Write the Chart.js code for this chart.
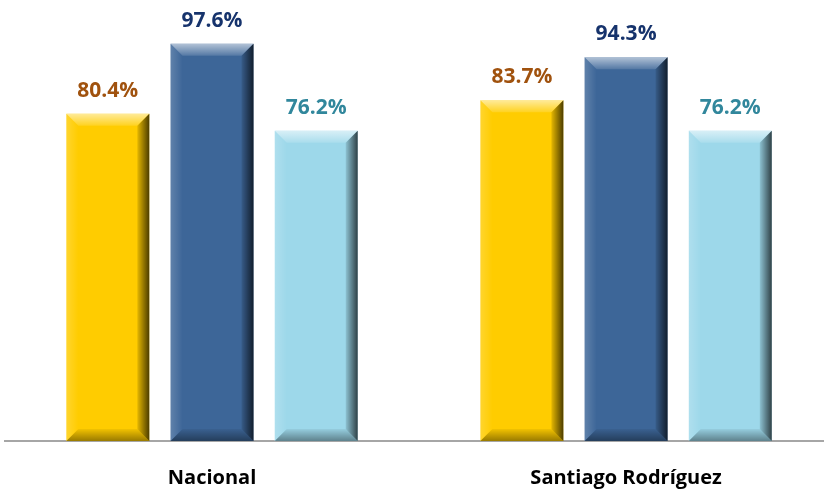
<!DOCTYPE html>
<html>
<head>
<meta charset="utf-8">
<script src="https://cdn.jsdelivr.net/npm/chart.js@4.4.0/dist/chart.umd.min.js"></script>
<style>
  html, body { margin: 0; padding: 0; background: #ffffff; }
  #wrap { width: 824px; height: 497px; position: relative; }
</style>
</head>
<body>
<div id="wrap"><canvas id="c" width="824" height="497"></canvas></div>
<script>
const categories = ['Nacional', 'Santiago Rodríguez'];
const seriesA = [80.4, 83.7];
const seriesB = [97.6, 94.3];
const seriesC = [76.2, 76.2];

const fillColors = ['#FFCC00', '#3D6698', '#9DD8EA'];
const labelColors = ['#A0520E', '#16336C', '#31879C'];
const FONT = '"Open Sans", Lato, "DejaVu Sans", sans-serif';

const toPoints = arr => arr.map((v, i) => ({ x: i, y: v }));

const bevelPlugin = {
  id: 'bevel',
  afterDatasetsDraw(chart) {
    const ctx = chart.ctx;
    chart.data.datasets.forEach((ds, di) => {
      const meta = chart.getDatasetMeta(di);
      meta.data.forEach((bar, i) => {
        const p = bar.getProps(['x', 'y', 'base', 'width'], true);
        const l = p.x - p.width / 2, r = p.x + p.width / 2;
        const t = p.y, b = p.base;
        const s = 12;
        ctx.save();
        let g = ctx.createLinearGradient(0, t, 0, t + s);
        g.addColorStop(0, 'rgba(255,255,255,0.6)');
        g.addColorStop(1, 'rgba(255,255,255,0.12)');
        ctx.fillStyle = g;
        ctx.beginPath();
        ctx.moveTo(l, t); ctx.lineTo(r, t); ctx.lineTo(r - s, t + s); ctx.lineTo(l + s, t + s); ctx.closePath();
        ctx.fill();
        g = ctx.createLinearGradient(l, 0, l + s, 0);
        g.addColorStop(0, 'rgba(255,255,255,0.18)');
        g.addColorStop(1, 'rgba(255,255,255,0.0)');
        ctx.fillStyle = g;
        ctx.beginPath();
        ctx.moveTo(l, t); ctx.lineTo(l + s, t + s); ctx.lineTo(l + s, b - s); ctx.lineTo(l, b); ctx.closePath();
        ctx.fill();
        g = ctx.createLinearGradient(r - s, 0, r, 0);
        g.addColorStop(0, 'rgba(0,0,0,0.10)');
        g.addColorStop(1, 'rgba(0,0,0,0.7)');
        ctx.fillStyle = g;
        ctx.beginPath();
        ctx.moveTo(r, t); ctx.lineTo(r, b); ctx.lineTo(r - s, b - s); ctx.lineTo(r - s, t + s); ctx.closePath();
        ctx.fill();
        g = ctx.createLinearGradient(0, b - s, 0, b);
        g.addColorStop(0, 'rgba(0,0,0,0.05)');
        g.addColorStop(1, 'rgba(0,0,0,0.4)');
        ctx.fillStyle = g;
        ctx.beginPath();
        ctx.moveTo(l, b); ctx.lineTo(l + s, b - s); ctx.lineTo(r - s, b - s); ctx.lineTo(r, b); ctx.closePath();
        ctx.fill();
        ctx.restore();

        ctx.save();
        ctx.font = 'bold 21px ' + FONT;
        ctx.fillStyle = labelColors[di];
        ctx.textAlign = 'center';
        ctx.textBaseline = 'alphabetic';
        ctx.fillText(ds.data[i].y.toFixed(1) + '%', p.x, t - 17);
        ctx.restore();
      });
    });
  }
};

new Chart(document.getElementById('c'), {
  type: 'bar',
  data: {
    datasets: [
      { label: 'A', data: toPoints(seriesA), backgroundColor: fillColors[0] },
      { label: 'B', data: toPoints(seriesB), backgroundColor: fillColors[1] },
      { label: 'C', data: toPoints(seriesC), backgroundColor: fillColors[2] }
    ]
  },
  options: {
    responsive: false,
    animation: false,
    events: [],
    layout: { padding: { left: 5, right: 0, top: 34, bottom: 0 } },
    datasets: {
      bar: { categoryPercentage: 0.755, barPercentage: 0.796, borderWidth: 0 }
    },
    plugins: { legend: { display: false }, tooltip: { enabled: false } },
    scales: {
      y: { display: false, min: 0, max: 100 },
      x: {
        type: 'linear',
        offset: false,
        min: -0.5,
        max: 1.478,
        afterBuildTicks(scale) { scale.ticks = categories.map((c, i) => ({ value: i })); },
        afterFit(scale) { scale.height = 56; },
        grid: { display: false, drawTicks: false, offset: false },
        border: { display: true, color: '#A6A6A6', width: 2 },
        ticks: {
          color: '#000000',
          autoSkip: false,
          maxRotation: 0,
          font: { family: FONT, size: 20, weight: 'bold' },
          padding: 25,
          callback: (v) => categories[v]
        }
      }
    }
  },
  plugins: [bevelPlugin]
});
</script>
</body>
</html>
